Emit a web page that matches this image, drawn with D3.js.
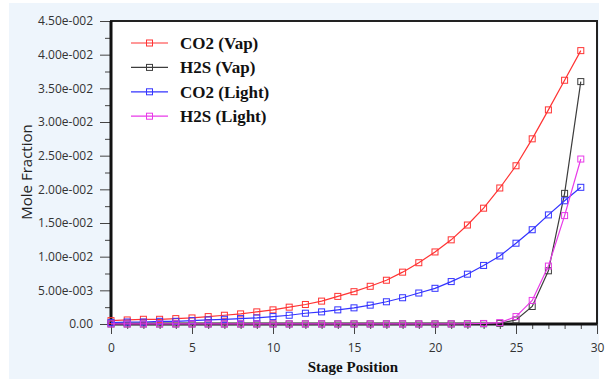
<!DOCTYPE html>
<html>
<head>
<meta charset="utf-8">
<script src="https://cdn.jsdelivr.net/npm/d3@7"></script>
<style>
  body { margin: 0; background: #fff; }
  svg { display: block; }
</style>
</head>
<body>
<div id="app"></div>
<script>
// Data
const stages = d3.range(0, 30);
const co2Vap = [0.0005, 0.0006, 0.0007, 0.0007, 0.0008, 0.0009, 0.0011, 0.0013, 0.0015, 0.0018,
  0.0021, 0.0025, 0.0029, 0.0034, 0.0041, 0.0048, 0.0056, 0.0065, 0.0077, 0.0091,
  0.0107, 0.0125, 0.0147, 0.0172, 0.0202, 0.0235, 0.0275, 0.0318, 0.0362, 0.0406];
const h2sVap = [0.00001, 0.00001, 0.00001, 0.00001, 0.00001, 0.00001, 0.00001, 0.00001, 0.00001, 0.00001,
  0.00001, 0.00001, 0.00001, 0.00001, 0.00001, 0.00001, 0.00001, 0.00001, 0.00001, 0.00001,
  0.00001, 0.00001, 0.00002, 0.00004, 0.0001, 0.0006, 0.0026, 0.0079, 0.0194, 0.0360];
const co2Light = [0.0002, 0.0003, 0.0003, 0.0004, 0.0004, 0.0005, 0.0006, 0.0007, 0.0008, 0.0009,
  0.0011, 0.0013, 0.0016, 0.0018, 0.0021, 0.0024, 0.0028, 0.0033, 0.0039, 0.0046,
  0.0053, 0.0063, 0.0074, 0.0087, 0.0101, 0.0120, 0.0140, 0.0162, 0.0183, 0.0203];
const h2sLight = [0.00001, 0.00001, 0.00001, 0.00001, 0.00001, 0.00001, 0.00001, 0.00001, 0.00001, 0.00001,
  0.00001, 0.00001, 0.00001, 0.00001, 0.00001, 0.00001, 0.00001, 0.00001, 0.00001, 0.00001,
  0.00001, 0.00002, 0.00004, 0.00008, 0.0002, 0.0011, 0.0035, 0.0086, 0.0161, 0.0245];

const seriesNames = ['CO2 (Vap)', 'H2S (Vap)', 'CO2 (Light)', 'H2S (Light)'];
const seriesColors = ['#ff3333', '#3c3c3c', '#3333ff', '#e83ae8'];

const yTicks = [0, 0.005, 0.01, 0.015, 0.02, 0.025, 0.03, 0.035, 0.04, 0.045];
const yTickLabels = ['0.00', '5.00e-003', '1.00e-002', '1.50e-002', '2.00e-002',
  '2.50e-002', '3.00e-002', '3.50e-002', '4.00e-002', '4.50e-002'];
const xTicks = [0, 5, 10, 15, 20, 25, 30];
const xTickLabels = ['0', '5', '10', '15', '20', '25', '30'];

const series = [co2Vap, h2sVap, co2Light, h2sLight].map((vals, i) => ({
  name: seriesNames[i],
  color: seriesColors[i],
  values: vals.map((v, j) => ({ x: stages[j], y: v }))
}));

const width = 612, height = 379;
const svg = d3.select('#app').append('svg')
  .attr('width', width)
  .attr('height', height);

// Panel background
svg.append('rect')
  .attr('x', 9).attr('y', 3)
  .attr('width', 590).attr('height', 376)
  .attr('fill', '#eef5fc');

const x = d3.scaleLinear().domain([0, 30]).range([111, 597]);
const y = d3.scaleLinear().domain([0, 0.045]).range([324, 21]);

// Plot area
svg.append('rect')
  .attr('x', x(0)).attr('y', y(0.045))
  .attr('width', x(30) - x(0)).attr('height', y(0) - y(0.045))
  .attr('fill', '#fff')
  .attr('stroke', '#222')
  .attr('stroke-width', 2);

const tickFont = "'Open Sans', 'DejaVu Sans', sans-serif";

// y axis minor ticks
svg.append('g')
  .attr('transform', `translate(${x(0)},0)`)
  .call(d3.axisLeft(y).tickValues(d3.range(0.0025, 0.045, 0.005)).tickSize(6).tickFormat(''))
  .call(g => g.select('.domain').remove())
  .call(g => g.selectAll('line').attr('stroke', '#444'));

// y axis major
svg.append('g')
  .attr('transform', `translate(${x(0)},0)`)
  .call(d3.axisLeft(y).tickValues(yTicks).tickSize(11).tickPadding(7)
    .tickFormat((d, i) => yTickLabels[i]))
  .call(g => g.select('.domain').remove())
  .call(g => g.selectAll('line').attr('stroke', '#444'))
  .call(g => g.selectAll('text').attr('fill', '#333').style('font-family', tickFont).style('font-size', '12px'));

// x axis minor ticks
svg.append('g')
  .attr('transform', `translate(0,${y(0)})`)
  .call(d3.axisBottom(x).tickValues(stages.filter(d => d % 5 !== 0)).tickSize(5).tickFormat(''))
  .call(g => g.select('.domain').remove())
  .call(g => g.selectAll('line').attr('stroke', '#444'));

// x axis major
svg.append('g')
  .attr('transform', `translate(0,${y(0)})`)
  .call(d3.axisBottom(x).tickValues(xTicks).tickSize(10).tickPadding(9)
    .tickFormat((d, i) => xTickLabels[i]))
  .call(g => g.select('.domain').remove())
  .call(g => g.selectAll('line').attr('stroke', '#444'))
  .call(g => g.selectAll('text').attr('fill', '#333').style('font-family', tickFont).style('font-size', '12px'));

// Thick left and bottom axis lines
svg.append('line')
  .attr('x1', x(0)).attr('x2', x(0))
  .attr('y1', y(0.045)).attr('y2', y(0) + 1.5)
  .attr('stroke', '#111').attr('stroke-width', 3);
svg.append('line')
  .attr('x1', x(0) - 1.5).attr('x2', x(30))
  .attr('y1', y(0)).attr('y2', y(0))
  .attr('stroke', '#111').attr('stroke-width', 3);

// Lines and markers
const line = d3.line().x(d => x(d.x)).y(d => y(d.y));
const ms = 6;

const sg = svg.selectAll('g.series')
  .data(series)
  .join('g')
  .attr('class', 'series');

sg.append('path')
  .attr('d', d => line(d.values))
  .attr('fill', 'none')
  .attr('stroke', d => d.color)
  .attr('stroke-width', 1.2);

sg.each(function (s) {
  d3.select(this).selectAll('rect.mark')
    .data(s.values)
    .join('rect')
    .attr('class', 'mark')
    .attr('x', d => x(d.x) - ms / 2)
    .attr('y', d => y(d.y) - ms / 2)
    .attr('width', ms)
    .attr('height', ms)
    .attr('fill', 'none')
    .attr('stroke', s.color)
    .attr('stroke-width', 1);
});

// Legend
const legend = svg.append('g').attr('transform', 'translate(131,43)');
const lg = legend.selectAll('g')
  .data(series)
  .join('g')
  .attr('transform', (d, i) => `translate(0,${i * 24.4})`);
lg.append('line')
  .attr('x1', 0).attr('x2', 37)
  .attr('stroke', d => d.color)
  .attr('stroke-width', 1.2);
lg.append('rect')
  .attr('x', 18.5 - ms / 2).attr('y', -ms / 2)
  .attr('width', ms).attr('height', ms)
  .attr('fill', 'none')
  .attr('stroke', d => d.color);
lg.append('text')
  .attr('x', 49)
  .attr('y', 6)
  .text(d => d.name)
  .style('font-family', "'Liberation Serif', 'Times New Roman', serif")
  .style('font-weight', 'bold')
  .style('font-size', '17px')
  .attr('fill', '#111');

// Axis titles
svg.append('text')
  .attr('transform', 'translate(32,172) rotate(-90)')
  .attr('text-anchor', 'middle')
  .text('Mole Fraction')
  .style('font-family', tickFont)
  .style('font-size', '15px')
  .attr('fill', '#222');

svg.append('text')
  .attr('x', 353)
  .attr('y', 372)
  .attr('text-anchor', 'middle')
  .text('Stage Position')
  .style('font-family', "'Liberation Serif', 'Times New Roman', serif")
  .style('font-weight', 'bold')
  .style('font-size', '15px')
  .attr('fill', '#111');
</script>
</body>
</html>
